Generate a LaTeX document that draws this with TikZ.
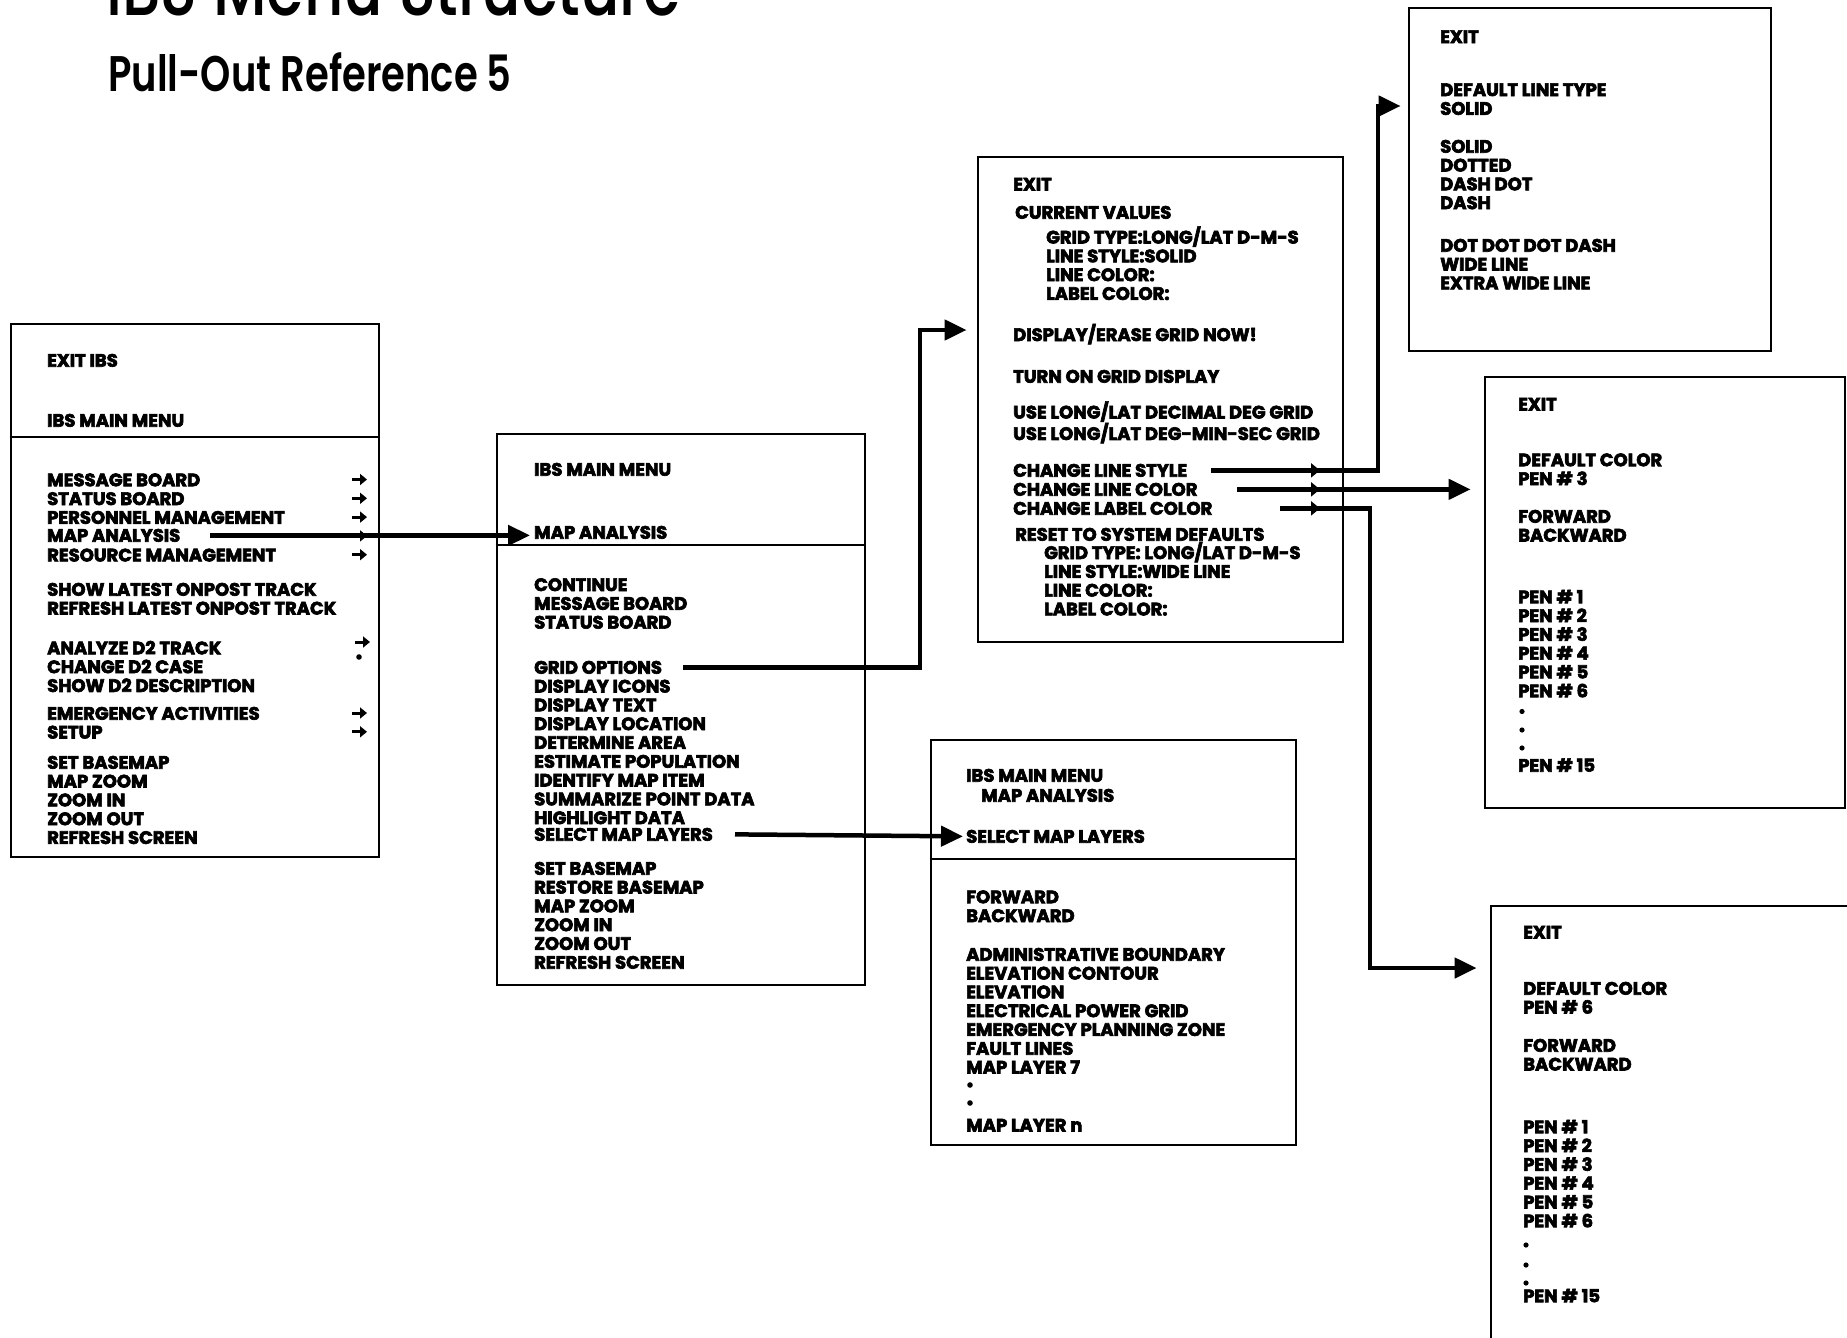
\documentclass[tikz,border=0pt]{standalone}
\usepackage{fontspec}
\newfontfamily\menufont{Poppins Bold}[FakeBold=3.5]
\newfontfamily\titlefont{Poppins Medium}[FakeStretch=0.77]
\newfontfamily\subtitlefont{Poppins SemiBold}[FakeStretch=0.77]
\usetikzlibrary{arrows.meta,fit}

\begin{document}
\begin{tikzpicture}[x=1pt, y=-1pt, >={Triangle[length=22pt,width=20pt]},
  frame/.style={draw, line width=2.8pt, inner sep=0pt},
  divider/.style={line width=2pt},
  item/.style={anchor=north west, yshift=6.3pt, inner sep=0pt, align=left,
    font=\menufont\fontsize{18}{18.8}\selectfont},
  tick/.style={-{Triangle[length=7pt,width=11pt]}, line width=3pt},
  conn/.style={->, line width=4.5pt}]
\useasboundingbox (0,0) rectangle (1847,1338);
\clip (0,0) rectangle (1847,1338);
\fill[white] (0,0) rectangle (1847,1338);

% titles
\node[anchor=base west, inner sep=0pt, font=\titlefont\fontsize{79}{79}\selectfont] (title) at (106,16) {IBS Menu Structure};
\node[anchor=base west, inner sep=0pt, font=\subtitlefont\fontsize{50}{50}\selectfont] (subtitle) at (108,92) {Pull-Out Reference 5};

% boxes
\node[frame, fit={(11,324) (379,857)}] (mainbox) {};
\node[frame, fit={(497,434) (865,985)}] (analysisbox) {};
\node[frame, fit={(978,157) (1343,642)}] (gridbox) {};
\node[frame, fit={(931,740) (1296,1145)}] (layerbox) {};
\node[frame, fit={(1409,8) (1771,351)}] (typebox) {};
\node[frame, fit={(1485,377) (1845,808)}] (colorbox) {};
\node[frame, fit={(1491,906) (1900,1400)}] (labelbox) {};
\draw[divider] (mainbox.west |- 0,437) -- (mainbox.east |- 0,437);
\draw[divider] (analysisbox.west |- 0,545) -- (analysisbox.east |- 0,545);
\draw[divider] (layerbox.west |- 0,859) -- (layerbox.east |- 0,859);

% IBS main menu
\node[item] (aexit) at (47,360) {EXIT IBS};
\node[item] (ahead) at (47,420) {IBS MAIN MENU};
\node[item] (aboard) at (47,479.5) {MESSAGE BOARD\\STATUS BOARD\\PERSONNEL MANAGEMENT};
\node[item] (amap) at (47,535) {MAP ANALYSIS};
\node[item] (ares) at (47,554.7) {RESOURCE MANAGEMENT};
\node[item] (atrack) at (47,589) {SHOW LATEST ONPOST TRACK\\REFRESH LATEST ONPOST TRACK};
\node[item] (ad2) at (47,647) {ANALYZE D2 TRACK\\CHANGE D2 CASE\\SHOW D2 DESCRIPTION};
\node[item] (aemerg) at (47,713) {EMERGENCY ACTIVITIES\\SETUP};
\node[item] (amap2) at (47,762) {SET BASEMAP\\MAP ZOOM\\ZOOM IN\\ZOOM OUT\\REFRESH SCREEN};
\foreach \y in {479.5,498.3,517.1,535.9,554.7,713,731.8}
  \draw[tick] (352,\y) -- (367,\y);
\draw[tick] (355,642) -- (370,642);
\fill (359,657) circle[radius=2.8pt];

% map analysis menu
\node[item] (bhead) at (534,469) {IBS MAIN MENU};
\node[item] (bmap) at (534,532) {MAP ANALYSIS};
\node[item] (bcont) at (534,584.3) {CONTINUE\\MESSAGE BOARD\\STATUS BOARD};
\node[item] (bgrid) at (534,667) {GRID OPTIONS};
\node[item] (bdisp) at (534,685.8) {DISPLAY ICONS\\DISPLAY TEXT\\DISPLAY LOCATION\\DETERMINE AREA\\ESTIMATE POPULATION\\IDENTIFY MAP ITEM\\SUMMARIZE POINT DATA\\HIGHLIGHT DATA};
\node[item] (bsel) at (534,834) {SELECT MAP LAYERS};
\node[item] (bbase) at (534,868) {SET BASEMAP\\RESTORE BASEMAP\\MAP ZOOM\\ZOOM IN\\ZOOM OUT\\REFRESH SCREEN};

% grid options
\node[item] (cexit) at (1013,184) {EXIT};
\node[item] (ccur) at (1015,212) {CURRENT VALUES};
\node[item] (cvals) at (1046,232.5) {GRID TYPE:LONG/LAT D-M-S\\LINE STYLE:SOLID\\LINE COLOR:\\LABEL COLOR:};
\node[item] (cnow) at (1013,330) {DISPLAY/ERASE GRID NOW!};
\node[item] (cturn) at (1013,376) {TURN ON GRID DISPLAY};
\node[item] (cuse) at (1013,407.5) {USE LONG/LAT DECIMAL DEG GRID\\USE LONG/LAT DEG-MIN-SEC GRID};
\node[item] (cstyle) at (1013,470) {CHANGE LINE STYLE};
\node[item] (ccolor) at (1013,489) {CHANGE LINE COLOR};
\node[item] (clabel) at (1013,508) {CHANGE LABEL COLOR};
\node[item] (creset) at (1015,534) {RESET TO SYSTEM DEFAULTS};
\node[item] (cdef) at (1044,548) {GRID TYPE: LONG/LAT D-M-S\\LINE STYLE:WIDE LINE\\LINE COLOR:\\LABEL COLOR:};

% map layers
\node[item] (ghead) at (966,775) {IBS MAIN MENU};
\node[item] (gmap) at (981,795) {MAP ANALYSIS};
\node[item] (gsel) at (966,836) {SELECT MAP LAYERS};
\node[item] (gfwd) at (966,896.5) {FORWARD\\BACKWARD};
\node[item] (glist) at (966,954) {ADMINISTRATIVE BOUNDARY\\ELEVATION CONTOUR\\ELEVATION\\ELECTRICAL POWER GRID\\EMERGENCY PLANNING ZONE\\FAULT LINES\\MAP LAYER 7};
\foreach \y in {1085,1103}
  \fill (970,\y) circle[radius=2.8pt];
\node[item] (glast) at (966,1125) {MAP LAYER n};

% line style
\node[item] (dexit) at (1440,36.5) {EXIT};
\node[item] (ddef) at (1440,89.5) {DEFAULT LINE TYPE\\SOLID};
\node[item] (dlist) at (1440,146) {SOLID\\DOTTED\\DASH DOT\\DASH};
\node[item] (dwide) at (1440,245) {DOT DOT DOT DASH\\WIDE LINE\\EXTRA WIDE LINE};

% line color
\node[item] (eexit) at (1518,404) {EXIT};
\node[item] (edef) at (1518,459.5) {DEFAULT COLOR\\PEN \# 3};
\node[item] (efwd) at (1518,516) {FORWARD\\BACKWARD};
\node[item] (epens) at (1518,596) {PEN \# 1\\PEN \# 2\\PEN \# 3\\PEN \# 4\\PEN \# 5\\PEN \# 6};
\foreach \y in {711.5,730,748}
  \fill (1522,\y) circle[radius=2.6pt];
\node[item] (elast) at (1518,764.5) {PEN \# 15};

% label color
\node[item] (fexit) at (1523,932) {EXIT};
\node[item] (fdef) at (1523,988) {DEFAULT COLOR\\PEN \# 6};
\node[item] (ffwd) at (1523,1045) {FORWARD\\BACKWARD};
\node[item] (fpens) at (1523,1126) {PEN \# 1\\PEN \# 2\\PEN \# 3\\PEN \# 4\\PEN \# 5\\PEN \# 6};
\foreach \y in {1245,1265,1283}
  \fill (1526,\y) circle[radius=2.6pt];
\node[item] (flast) at (1523,1295) {PEN \# 15};

% connectors
\draw[conn] (amap -| 210,0) -- ([xshift=-4pt]bmap.west |- amap);
\draw[conn, shorten >=10pt] (bgrid -| 683,0) -| (920,330) -- (gridbox.west |- 0,330);
\draw[conn] (bsel -| 735,0) -- ([xshift=-3pt]gsel.west);
\draw[conn, shorten >=7pt] (cstyle -| 1211,0) -| (1378,106) -- (typebox.west |- 0,106);
\draw[conn, shorten >=13pt] (ccolor -| 1237,0) -- (colorbox.west |- ccolor);
\draw[conn, shorten >=13pt] (clabel -| 1280,0) -| (1370,968) -- (labelbox.west |- 0,968);
\foreach \n in {cstyle,ccolor,clabel}
  \draw[tick, -{Triangle[length=9pt,width=14pt]}, line width=4.5pt] (\n -| 1300,0) -- (\n -| 1320,0);
\end{tikzpicture}
\end{document}
